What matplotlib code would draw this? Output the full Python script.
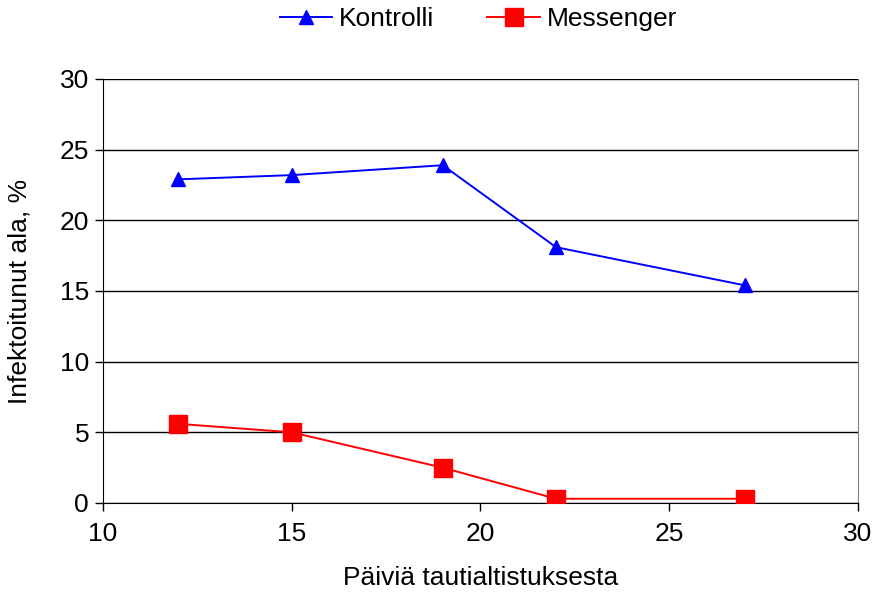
import matplotlib
matplotlib.use("Agg")
import matplotlib.pyplot as plt

plt.rcParams['font.family'] = ['Liberation Sans', 'DejaVu Sans']

days = [12, 15, 19, 22, 27]
kontrolli = [22.9, 23.2, 23.9, 18.1, 15.4]
messenger = [5.6, 5.0, 2.5, 0.3, 0.3]
xticks = [10, 15, 20, 25, 30]
yticks = [0, 5, 10, 15, 20, 25, 30]

FS = 19

fig = plt.figure(figsize=(8.76, 5.98), dpi=100)
ax = fig.add_axes([103/876, 1-503/598, (858-103)/876, (503-79)/598])

ax.plot(days, kontrolli, color='#0000ff', lw=1.4, marker='^', ms=10,
        markerfacecolor='#0000ff', markeredgecolor='#0000ff', label='Kontrolli', zorder=3)
ax.plot(days, messenger, color='#ff0000', lw=1.4, marker='s', ms=13,
        markerfacecolor='#ff0000', markeredgecolor='#ff0000', label='Messenger', zorder=3)

ax.set_xlim(10, 30)
ax.set_ylim(0, 30)
ax.set_xticks(xticks)
ax.set_yticks(yticks)
ax.yaxis.grid(True, color='black', lw=1)
ax.set_axisbelow(True)
ax.spines['top'].set_visible(False)
ax.spines['right'].set_color('#808080')
ax.spines['left'].set_color('black')
ax.spines['bottom'].set_color('black')
ax.tick_params(axis='both', direction='out', length=6, width=1, labelsize=FS, colors='black')
ax.tick_params(axis='x', pad=8)
ax.tick_params(axis='y', pad=4)

ax.set_xlabel('Päiviä tautialtistuksesta', fontsize=FS, labelpad=14)
ax.set_ylabel('Infektoitunut ala, %', fontsize=FS, labelpad=20)

fig.legend(loc='upper center', bbox_to_anchor=(0.546, 1.028), ncol=2, frameon=False,
           fontsize=FS, handlelength=2.0, columnspacing=2.0, handletextpad=0.25)

fig.savefig('out.png', dpi=100)
